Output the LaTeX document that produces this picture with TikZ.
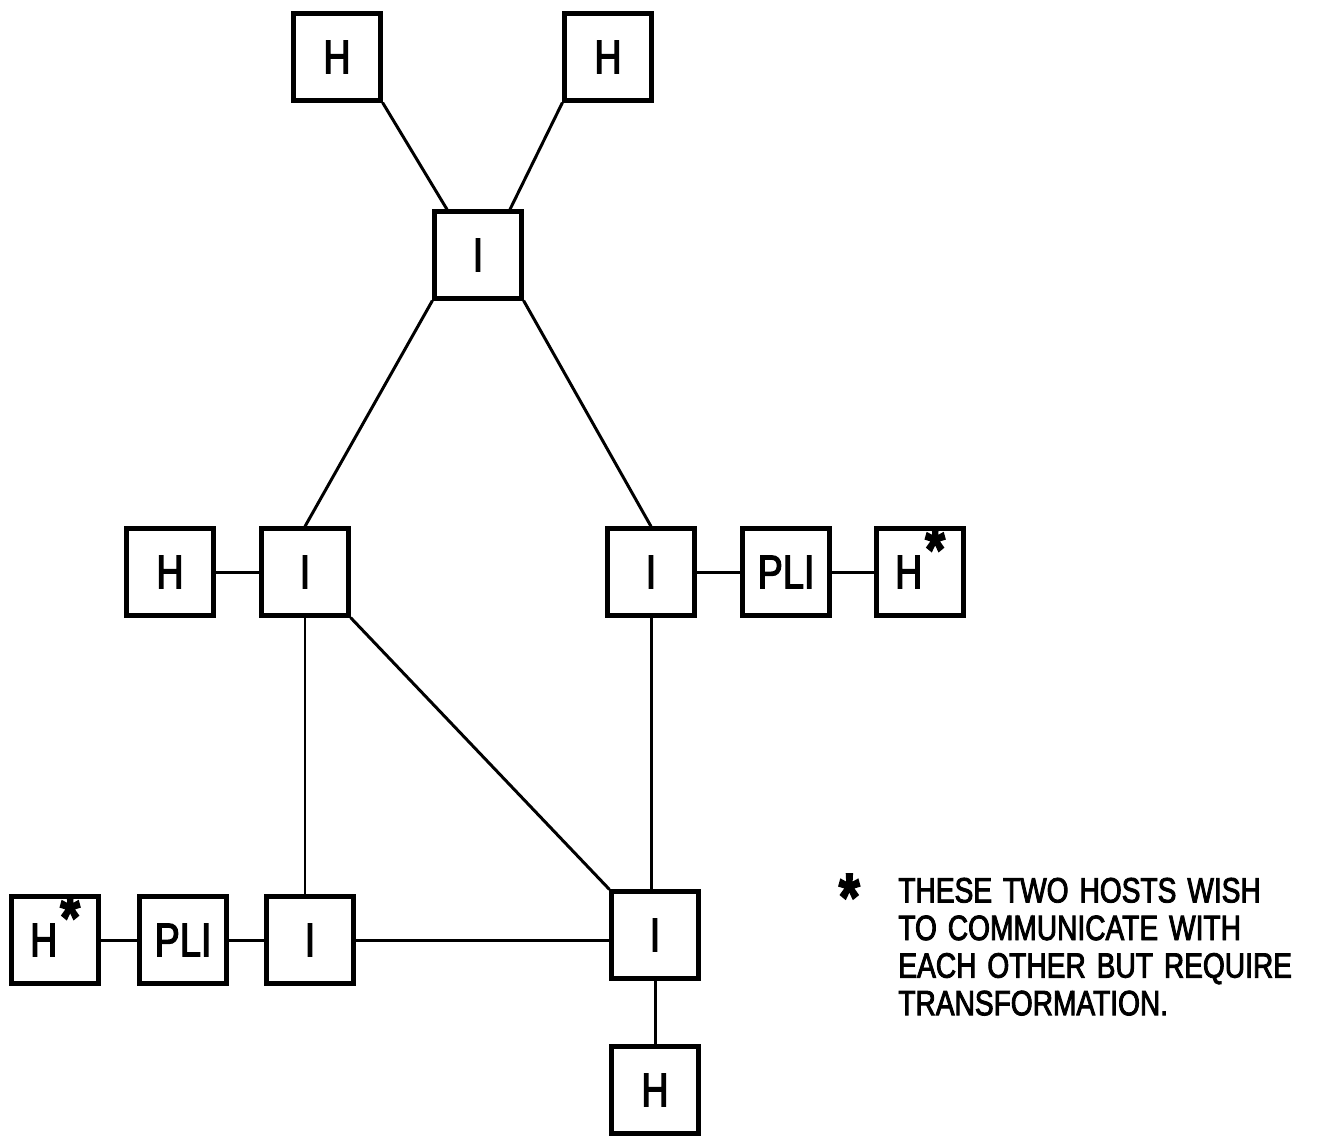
\documentclass[tikz,border=0pt]{standalone}
\usepackage{fontspec}
\setmainfont{Liberation Sans}
\newfontfamily\lettering[FakeStretch=0.8,FakeBold=2.5]{Liberation Sans}
\newfontfamily\notefont[FakeStretch=0.8,FakeBold=2.5,WordSpace=1.4]{Liberation Sans}
\newcommand{\bigstar}[1]{{\fontsize{#1}{#1}\selectfont\bfseries *}}
\newcommand{\hoststar}{H\hspace{0.06em}\raisebox{0.36em}[0pt][0pt]{\bigstar{36}}}
\tikzset{
  unit/.style={draw,line width=2.4pt,minimum size=1.74cm,inner sep=0pt,
    font=\lettering\fontsize{27}{27}\selectfont},
  link/.style={line width=1.7pt},
}

\begin{document}
\begin{tikzpicture}
  \useasboundingbox (0,0) rectangle (26.44,-22.82);
  % hosts and interfaces
  \node[unit] (hosta) at (6.74,-1.14) {H};
  \node[unit] (hostb) at (12.16,-1.14) {H};
  \node[unit] (imptop) at (9.56,-5.10) {I};
  \node[unit] (hostc) at (3.40,-11.44) {H};
  \node[unit] (impleft) at (6.10,-11.44) {I};
  \node[unit] (impright) at (13.02,-11.44) {I};
  \node[unit] (pliright) at (15.72,-11.44) {PLI};
  \node[unit] (starright) at (18.40,-11.44) {\hoststar};
  \node[unit] (starleft) at (1.10,-18.80) {\hoststar};
  \node[unit] (plileft) at (3.66,-18.80) {PLI};
  \node[unit] (impdown) at (6.20,-18.80) {I};
  \node[unit] (impcorner) at (13.10,-18.70) {I};
  \node[unit] (hostd) at (13.10,-21.80) {H};

  % links
  \draw[link] (hosta.south east) -- ([xshift=-6.2mm]imptop.north);
  \draw[link] (hostb.south west) -- ([xshift=6.4mm]imptop.north);
  \draw[link] (imptop.south west) -- (impleft.north);
  \draw[link] (imptop.south east) -- (impright.north);
  \draw[link] (hostc) -- (impleft);
  \draw[link] (impright) -- (pliright);
  \draw[link] (pliright) -- (starright);
  \draw[link] (impleft.south) -- (impleft.south |- impdown.north);
  \draw[link] (impleft.south east) -- (impcorner.north west);
  \draw[link] (impright.south) -- (impright.south |- impcorner.north);
  \draw[link] (starleft) -- (plileft);
  \draw[link] (plileft) -- (impdown);
  \draw[link] (impdown.east) -- (impdown.east -| impcorner.west);
  \draw[link] (impcorner) -- (hostd);

  % footnote
  \node[anchor=north west,align=left,inner sep=0pt,
    font=\notefont\fontsize{20}{21.4}\selectfont] (note) at (17.96,-17.55)
    {\llap{\raisebox{-0.5em}[0pt][0pt]{\bigstar{38}}\hspace{1.1em}}THESE TWO HOSTS WISH\\
     TO COMMUNICATE WITH\\
     EACH OTHER BUT REQUIRE\\
     TRANSFORMATION.};
\end{tikzpicture}
\end{document}
